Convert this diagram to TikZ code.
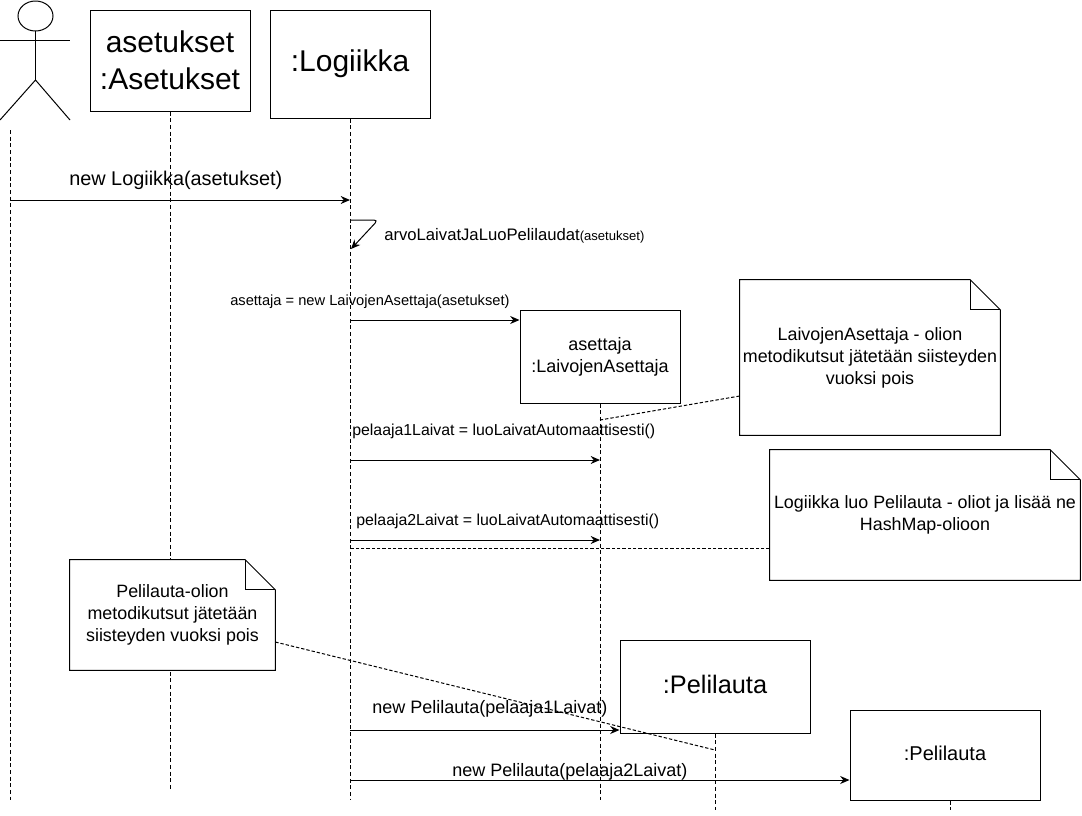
\documentclass[tikz,border=0pt]{standalone}
\usepackage{fontspec}
\setmainfont{Liberation Sans}
\usetikzlibrary{positioning,arrows.meta,calc}

\tikzset{
  objbox/.style={draw, fill=white, line width=0.75pt, inner sep=0pt, align=center},
  notebox/.style={fill=white, inner sep=0pt, align=center, font=\fontsize{13.4pt}{16.5pt}\selectfont},
  lifeline/.style={line width=0.75pt, dash pattern=on 3pt off 2pt},
  notelink/.style={line width=0.75pt, dash pattern=on 2.5pt off 1.5pt},
  msg/.style={line width=0.75pt, -{Stealth[length=7pt,width=6pt]}},
  msglabel/.style={inner sep=0pt, font=\fontsize{13.5pt}{15pt}\selectfont},
  smalllabel/.style={inner sep=0pt, font=\fontsize{11pt}{13pt}\selectfont}
}

\begin{document}
\begin{tikzpicture}[x=0.75pt, y=-0.75pt]
    \useasboundingbox (0,0) rectangle (1082,815);

    % actor
    \coordinate (neck) at (35.5,31);
    \coordinate (hip) at (35.5,80);
    \draw[line width=0.75pt] (35.5,16) ellipse [x radius=17.5, y radius=15];
    \draw[line width=0.75pt] (neck) -- (hip);
    \draw[line width=0.75pt] (0,40) -- (70,40);
    \draw[line width=0.75pt] (0,120) -- (hip) -- (70,120);

    % lifelines
    \coordinate (actortop) at (10.5,130);
    \foreach \name/\x/\yend in {actor/10.5/800, aset/170/790, logic/350/800, placer/600/800, boardA/715/810, boardB/950/810} {
      \coordinate (\name-end) at (\x,\yend);
    }
    \node[objbox, minimum width=120pt, minimum height=75.75pt, font=\fontsize{22.5pt}{27.75pt}\selectfont] (aset) at (170,60.5) {asetukset\\:Asetukset};
    \node[objbox, minimum width=120pt, minimum height=81pt, font=\fontsize{22.5pt}{27.75pt}\selectfont] (logic) at (350,64) {:Logiikka};
    \node[objbox, minimum width=120pt, minimum height=69.75pt, font=\fontsize{13.5pt}{16.5pt}\selectfont] (placer) at (600,356.5) {asettaja\\:LaivojenAsettaja};
    \node[objbox, minimum width=142.5pt, minimum height=69.75pt, text depth=3pt, font=\fontsize{19pt}{22pt}\selectfont] (boardA) at (715,686.5) {:Pelilauta};
    \node[objbox, minimum width=142.5pt, minimum height=67.5pt, text depth=3pt, font=\fontsize{15pt}{18pt}\selectfont] (boardB) at (945,755) {:Pelilauta};

    \draw[lifeline] (actortop) -- (actor-end);
    \foreach \name in {aset, logic, placer, boardA} {
      \draw[lifeline] (\name.south) -- (\name-end);
    }
    \draw[lifeline] (boardB.south -| boardB-end) -- (boardB-end);

    % notes
    \node[notebox, minimum width=195pt, minimum height=116.25pt] (noteA) at (870,357.5) {LaivojenAsettaja - olion\\metodikutsut jätetään siisteyden\\vuoksi pois};
    \node[notebox, minimum width=232.5pt, minimum height=97.5pt] (noteB) at (925,515) {Logiikka luo Pelilauta - oliot ja lisää ne\\HashMap-olioon};
    \node[notebox, minimum width=153.75pt, minimum height=82.5pt] (noteC) at (172.5,615) {Pelilauta-olion\\metodikutsut jätetään\\siisteyden vuoksi pois};
    \foreach \n in {noteA, noteB, noteC} {
      \draw[line width=0.75pt] (\n.north west) -- ($(\n.north east)+(-30,0)$) -- ($(\n.north east)+(0,30)$) -- (\n.south east) -- (\n.south west) -- cycle;
      \draw[line width=0.75pt] ($(\n.north east)+(-30,0)$) -- ($(\n.north east)+(-30,30)$) -- ($(\n.north east)+(0,30)$);
    }

    % messages
    \coordinate (m1a) at (10.5,200);
    \coordinate (m1b) at (350,200);
    \draw[msg] (m1a) -- (m1b);
    \coordinate (selfa) at (350,220);
    \coordinate (selfb) at (378,220);
    \coordinate (selfc) at (351,249);
    \draw[msg, rounded corners=3pt] (selfa) -- (selfb) -- (selfc);
    \coordinate (m2a) at (350,320);
    \draw[msg] (m2a) -- (placer.west |- m2a);
    \foreach \a/\b/\yy in {m3a/m3b/460, m4a/m4b/540} {
      \coordinate (\a) at (350,\yy);
      \coordinate (\b) at (600,\yy);
      \draw[msg] (\a) -- (\b);
    }
    \coordinate (m5a) at (350,730);
    \draw[msg] (m5a) -- (boardA.west |- m5a);
    \coordinate (m6a) at (350,780);
    \draw[msg] (m6a) -- (boardB.west |- m6a);

    % note links
    \coordinate (linkA) at (600,420);
    \coordinate (linkB) at (350,548);
    \coordinate (linkC) at (715,750);
    \draw[notelink] (noteA.west |- 0,396) -- (linkA);
    \draw[notelink] (noteB.west |- linkB) -- (linkB);
    \draw[notelink] (noteC.east |- 0,642) -- (linkC);

    % labels
    \node[msglabel, anchor=west, font=\fontsize{14.9pt}{16pt}\selectfont] (l1) at (69,180) {new Logiikka(asetukset)};
    \node[msglabel, anchor=west, font=\fontsize{12.5pt}{14pt}\selectfont] (l2) at (384,236) {arvoLaivatJaLuoPelilaudat{\fontsize{9.8pt}{10pt}\selectfont(asetukset)}};
    \node[smalllabel, anchor=west] (l3) at (230,301.5) {asettaja = new LaivojenAsettaja(asetukset)};
    \node[smalllabel, anchor=west, font=\fontsize{11.9pt}{13pt}\selectfont] (l4) at (352,431.5) {pelaaja1Laivat = luoLaivatAutomaattisesti()};
    \node[smalllabel, anchor=west, font=\fontsize{11.9pt}{13pt}\selectfont] (l5) at (356,521.5) {pelaaja2Laivat = luoLaivatAutomaattisesti()};
    \node[msglabel, anchor=west] (l6) at (372,709) {new Pelilauta(pelaaja1Laivat)};
    \node[msglabel, anchor=west] (l7) at (452,771.5) {new Pelilauta(pelaaja2Laivat)};
\end{tikzpicture}
\end{document}
